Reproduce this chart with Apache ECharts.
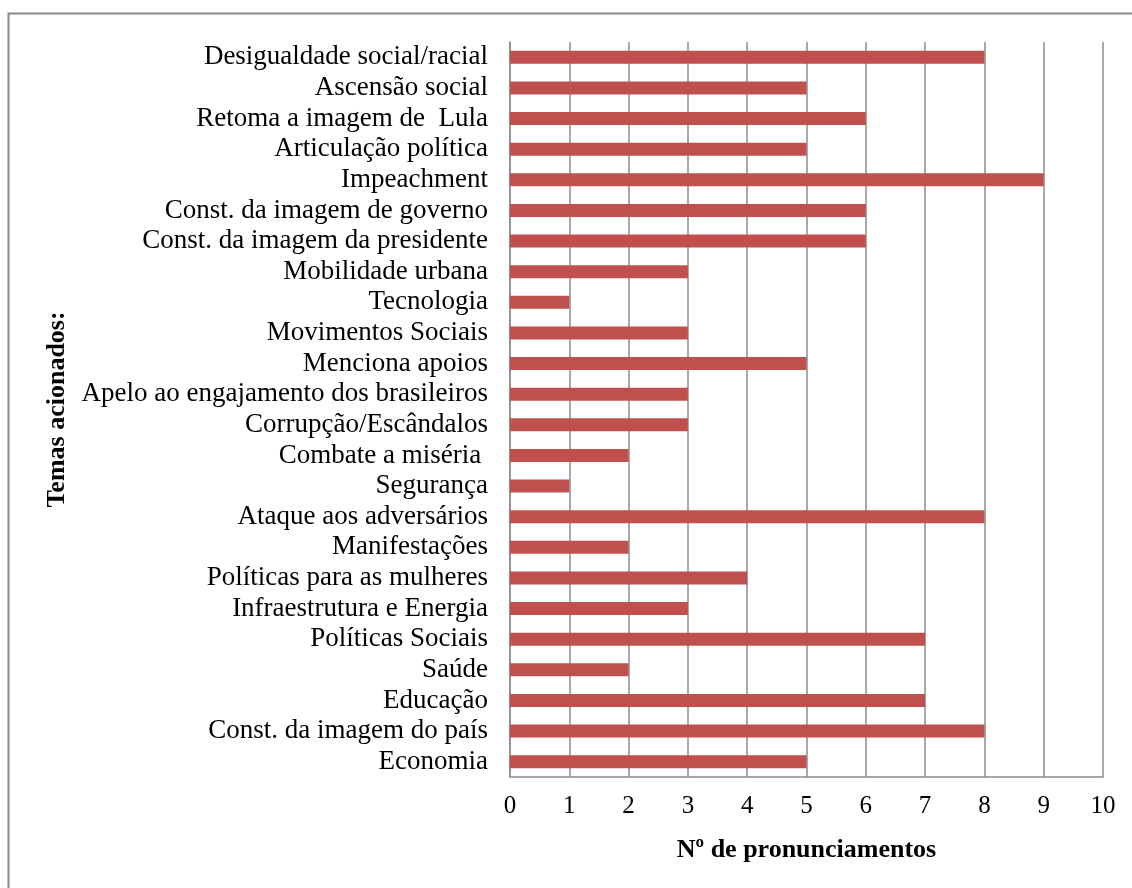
<!DOCTYPE html>
<html><head><meta charset="utf-8">
<script src="https://cdn.jsdelivr.net/npm/echarts@6/dist/echarts.min.js"></script>
<style>html,body{margin:0;padding:0;background:#fff}#c{width:1132px;height:888px}</style>
</head><body><div id="c"></div>
<script>
const categories = [
 "Desigualdade social/racial","Ascensão social","Retoma a imagem de  Lula","Articulação política",
 "Impeachment","Const. da imagem de governo","Const. da imagem da presidente","Mobilidade urbana",
 "Tecnologia","Movimentos Sociais","Menciona apoios","Apelo ao engajamento dos brasileiros",
 "Corrupção/Escândalos","Combate a miséria ","Segurança","Ataque aos adversários","Manifestações",
 "Políticas para as mulheres","Infraestrutura e Energia","Políticas Sociais","Saúde","Educação",
 "Const. da imagem do país","Economia"
];
const values = [8,5,6,5,9,6,6,3,1,3,5,3,3,2,1,8,2,4,3,7,2,7,8,5];
const xTicks = [0,1,2,3,4,5,6,7,8,9,10];

const chart = echarts.init(document.getElementById('c'), null, {renderer:'canvas'});
const serif = '"Liberation Serif","DejaVu Serif",serif';
chart.setOption({
  animation:false,
  backgroundColor:'#fff',
  graphic:[{type:'rect',shape:{x:8.5,y:13.5,width:1140,height:890},style:{fill:null,stroke:'#8a8a8a',lineWidth:2},silent:true}],
  grid:{left:510,top:42,width:593,height:735,containLabel:false},
  xAxis:{type:'value',min:xTicks[0],max:xTicks[xTicks.length-1],interval:1,
    name:'Nº de pronunciamentos',nameLocation:'middle',nameGap:60,
    nameTextStyle:{fontFamily:serif,fontSize:26,fontWeight:'bold',color:'#000'},
    axisLine:{show:true,lineStyle:{color:'#8c8c8c',width:1.5}},
    axisTick:{show:false},
    axisLabel:{fontFamily:serif,fontSize:25,color:'#000',margin:17},
    splitLine:{show:true,lineStyle:{color:'#8c8c8c',width:1.5}}},
  yAxis:{type:'category',data:categories,inverse:true,
    name:'Temas acionados:',nameLocation:'middle',nameGap:437,nameRotate:90,
    nameTextStyle:{fontFamily:serif,fontSize:26,fontWeight:'bold',color:'#000'},
    axisLine:{show:true,lineStyle:{color:'#8c8c8c',width:1.5}},
    axisTick:{show:false},
    axisLabel:{fontFamily:serif,fontSize:27,color:'#000',margin:22,interval:0},
    splitLine:{show:false}},
  series:[{type:'bar',data:values,barWidth:13,itemStyle:{color:'#C0504D'}}]
});
</script></body></html>
